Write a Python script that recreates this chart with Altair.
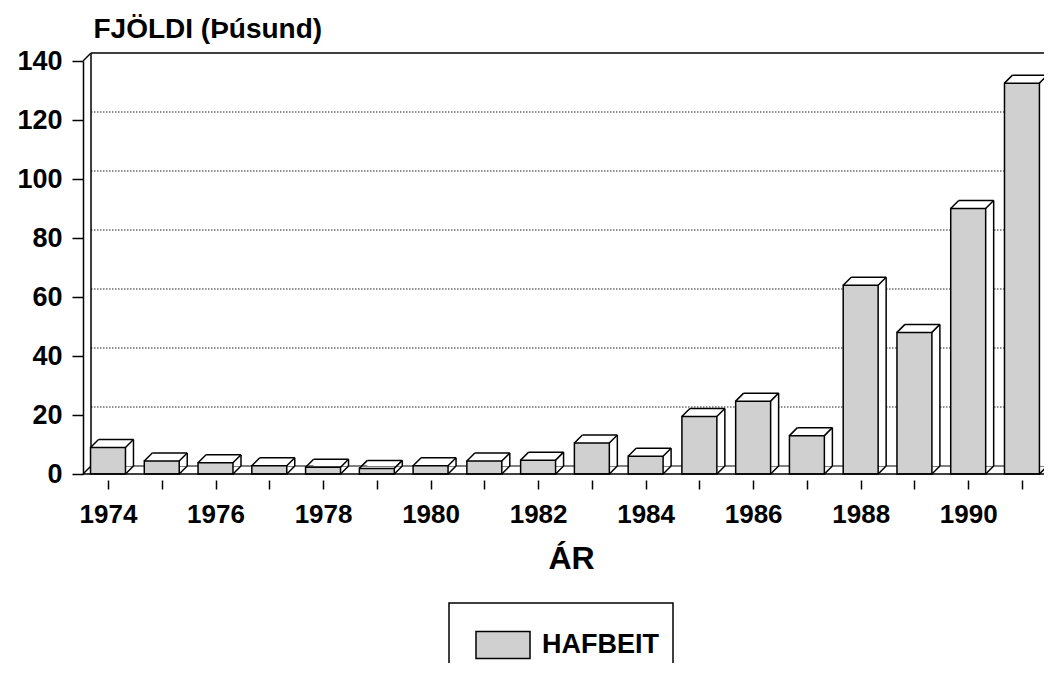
import altair as alt
import pandas as pd

# ---- data ----
YEARS = [1974, 1975, 1976, 1977, 1978, 1979, 1980, 1981, 1982, 1983,
         1984, 1985, 1986, 1987, 1988, 1989, 1990, 1991]
VALUES = [9, 4.4, 3.8, 2.8, 2.3, 1.9, 2.8, 4.4, 4.7, 10.5,
          6, 19.5, 24.7, 13, 64, 48, 90, 132.5]
SERIES = "HAFBEIT"
Y_TICKS = [0, 20, 40, 60, 80, 100, 120, 140]
GRID_VALUES = [20, 40, 60, 80, 100, 120]

# ---- layout / style constants ----
X_MIN, X_MAX = 1973.535, 1991.41
BAR_HALF = 0.325
DEPTH = 8
BAR_FILL = "#d0d0d0"
FONT = "Liberation Sans"
LW = 1.5
NBSP3 = "\u00a0\u00a0\u00a0"

df = pd.DataFrame({"year": YEARS, "value": VALUES, "series": SERIES})
frame_df = pd.DataFrame({"x0": [X_MIN], "x1": [X_MAX], "lo": [Y_TICKS[0]], "hi": [Y_TICKS[-1]]})
grid_df = pd.DataFrame({"v": GRID_VALUES, "x0": X_MIN, "x1": X_MAX})

XS = alt.Scale(domain=[X_MIN, X_MAX], nice=False, zero=False)
YS = alt.Scale(domain=[Y_TICKS[0], Y_TICKS[-1]], nice=False)

X_AXIS = alt.Axis(
    values=YEARS, format="d",
    labelExpr="datum.value % 2 == 0 ? datum.label : ''",
    title="ÁR", titleFontSize=32, titleFontWeight="bold", titleColor="black",
    titleX=488, titleY=88, titleAlign="center", titleBaseline="alphabetic",
    titleAnchor="start",
    labelFontSize=26, labelFontWeight="bold", labelColor="black",
    labelPadding=12, labelFlush=False, labelOverlap=False,
    tickColor="black", tickWidth=LW, tickSize=9, offset=6,
    domain=False, grid=False,
)
Y_AXIS = alt.Axis(
    values=Y_TICKS, title="FJÖLDI (Þúsund)", titleAngle=0,
    titleX=10, titleY=-24, titleAlign="left", titleBaseline="alphabetic",
    titleFontSize=28, titleFontWeight="bold", titleColor="black",
    labelFontSize=27, labelFontWeight="bold", labelColor="black",
    labelPadding=10, tickSize=11, tickColor="black", tickWidth=LW,
    domain=True, domainColor="black", domainWidth=LW, grid=False,
)


def X(f):
    return alt.X(f, type="quantitative", scale=XS, axis=X_AXIS)


def Y(f):
    return alt.Y(f, type="quantitative", scale=YS, axis=Y_AXIS)


frame = alt.Chart(frame_df)
grid = alt.Chart(grid_df).mark_rule(
    color="#222", strokeDash=[1.5, 1.5], strokeWidth=1.2,
    xOffset=DEPTH, x2Offset=DEPTH, yOffset=-DEPTH,
).encode(x=X("x0"), x2="x1", y=Y("v"))

top_line = frame.mark_rule(color="black", strokeWidth=LW, xOffset=DEPTH,
                           x2Offset=DEPTH, yOffset=-DEPTH).encode(
    x=X("x0"), x2="x1", y=Y("hi"))
back_wall = frame.mark_rule(color="black", strokeWidth=LW, xOffset=DEPTH,
                            yOffset=-DEPTH, y2Offset=-DEPTH).encode(
    x=X("x0"), y=Y("lo"), y2="hi")
diag_top = frame.mark_rule(color="black", strokeWidth=LW, x2Offset=DEPTH,
                           y2Offset=-DEPTH).encode(
    x=X("x0"), x2="x0", y=Y("hi"), y2="hi")
diag_bot = frame.mark_rule(color="black", strokeWidth=LW, x2Offset=DEPTH,
                           y2Offset=-DEPTH).encode(
    x=X("x0"), x2="x0", y=Y("lo"), y2="lo")
floor_back = frame.mark_rule(color="black", strokeWidth=1.2, xOffset=DEPTH,
                             x2Offset=DEPTH, yOffset=-DEPTH).encode(
    x=X("x0"), x2="x1", y=Y("lo"))
floor_front = frame.mark_rule(color="black", strokeWidth=LW).encode(
    x=X("x0"), x2="x1", y=Y("lo"))

bars = alt.Chart(df).transform_calculate(
    xl=f"datum.year - {BAR_HALF}", xr=f"datum.year + {BAR_HALF}", base="0")

back_box = bars.mark_bar(fill="white", xOffset=DEPTH, x2Offset=DEPTH,
                         yOffset=-DEPTH, y2Offset=-DEPTH).encode(
    x=X("xl:Q"), x2="xr:Q", y=Y("value:Q"), y2="base:Q")
back_top = bars.mark_rule(color="black", strokeWidth=LW, xOffset=DEPTH,
                          x2Offset=DEPTH, yOffset=-DEPTH).encode(
    x=X("xl:Q"), x2="xr:Q", y=Y("value:Q"))
back_right = bars.mark_rule(color="black", strokeWidth=LW, xOffset=DEPTH,
                            yOffset=-DEPTH, y2Offset=-DEPTH).encode(
    x=X("xr:Q"), y=Y("value:Q"), y2="base:Q")

front = bars.mark_bar(stroke="black", strokeWidth=LW).encode(
    x=X("xl:Q"), x2="xr:Q", y=Y("value:Q"), y2="base:Q",
    fill=alt.Fill(
        "series:N",
        scale=alt.Scale(domain=[SERIES], range=[BAR_FILL]),
        legend=alt.Legend(
            title=None, orient="none", legendX=366, legendY=542,
            symbolType="M-1,-0.5H1V0.5H-1Z", symbolSize=2916,
            symbolStrokeColor="black", symbolStrokeWidth=LW,
            symbolOffset=12, labelOffset=11,
            labelExpr=f"datum.label + '{NBSP3}'",
            labelFontSize=27, labelFontWeight="bold", labelColor="black",
            padding=14, strokeColor="black",
        ),
    ),
)

d_tl = bars.mark_rule(color="black", strokeWidth=LW, x2Offset=DEPTH,
                      y2Offset=-DEPTH).encode(
    x=X("xl:Q"), x2="xl:Q", y=Y("value:Q"), y2="value:Q")
d_tr = bars.mark_rule(color="black", strokeWidth=LW, x2Offset=DEPTH,
                      y2Offset=-DEPTH).encode(
    x=X("xr:Q"), x2="xr:Q", y=Y("value:Q"), y2="value:Q")
d_br = bars.mark_rule(color="black", strokeWidth=LW, x2Offset=DEPTH,
                      y2Offset=-DEPTH).encode(
    x=X("xr:Q"), x2="xr:Q", y=Y("base:Q"), y2="base:Q")

chart = alt.layer(
    grid, top_line, back_wall, diag_top, diag_bot, floor_back,
    back_box, back_top, back_right, front, d_tl, d_tr, d_br, floor_front,
).properties(
    width=961, height=413, autosize="none",
    padding={"left": 75, "top": 53, "right": 0, "bottom": 189},
    background="white",
).configure(font=FONT).configure_view(strokeOpacity=0).configure_legend(
    strokeWidth=LW
)

chart.save("out.html", embed_options={"renderer": "svg", "actions": False})
